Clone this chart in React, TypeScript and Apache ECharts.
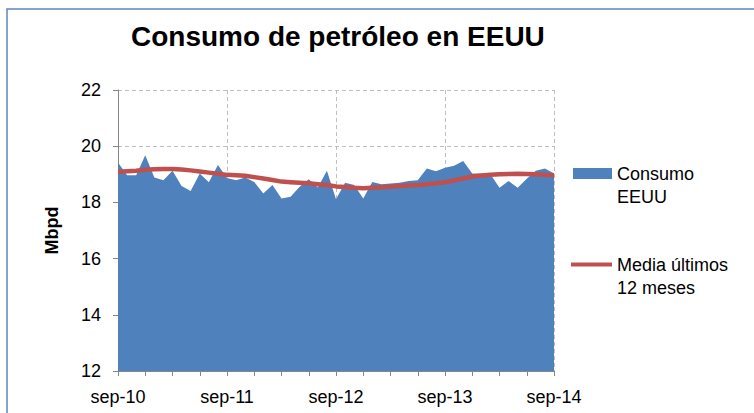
import React, { useEffect, useRef } from "react";
import * as echarts from "echarts";

const monthNames = ["sep", "oct", "nov", "dic", "ene", "feb", "mar", "abr", "may", "jun", "jul", "ago"];
const startYear = 10;
const monthCount = 49;

const consumo = [
  19.42, 18.97, 18.97, 19.68, 18.89, 18.79, 19.13, 18.58, 18.41, 19.03, 18.72, 19.33,
  18.87, 18.79, 18.89, 18.73, 18.32, 18.62, 18.14, 18.2, 18.56, 18.82, 18.53, 19.13,
  18.11, 18.7, 18.62, 18.14, 18.73, 18.65, 18.67, 18.7, 18.76, 18.79, 19.21, 19.11,
  19.23, 19.3, 19.47, 19.03, 19.02, 19.0, 18.52, 18.76, 18.52, 18.84, 19.13, 19.21,
  19.03,
];

const media12 = [
  19.09, 19.11, 19.13, 19.16, 19.18, 19.19, 19.19, 19.17, 19.14, 19.1, 19.06, 19.02,
  18.98, 18.97, 18.95, 18.9, 18.85, 18.8, 18.74, 18.72, 18.7, 18.68, 18.65, 18.62,
  18.57, 18.55, 18.52, 18.5, 18.52, 18.54, 18.56, 18.58, 18.6, 18.62, 18.65, 18.68,
  18.72, 18.78, 18.85, 18.92, 18.96, 18.98, 19.0, 19.01, 19.02, 19.01, 19.0, 18.98,
  18.97,
];

const categories: string[] = [];
for (let i = 0; i < monthCount; i++) {
  const y = startYear + Math.floor((i + 8) / 12);
  categories.push(monthNames[i % 12] + "-" + String(y));
}

const yTicks = { min: 12, max: 22, interval: 2 };

const FONT = "Liberation Sans, Arial, sans-serif";
const SERIES_A = "Consumo\nEEUU";
const SERIES_B = "Media últimos\n12 meses";

export default function App() {
  const ref = useRef<HTMLDivElement>(null);
  useEffect(() => {
    if (!ref.current) return;
    const chart = echarts.init(ref.current, undefined, { renderer: "svg" });
    const legendText = {
      fontFamily: FONT,
      fontSize: 18,
      color: "#000",
      lineHeight: 23,
    };
    chart.setOption({
      animation: false,
      backgroundColor: "#ffffff",
      textStyle: { fontFamily: FONT },
      title: {
        text: "Consumo de petróleo en EEUU",
        left: 131,
        top: 22,
        padding: 0,
        textStyle: { fontFamily: FONT, fontSize: 28, fontWeight: "bold", color: "#000" },
      },
      graphic: [
        {
          type: "rect",
          shape: { x: 7, y: 9, width: 800, height: 450 },
          style: { fill: "none", stroke: "#5B87C5", lineWidth: 1.5 },
          silent: true,
          z: -10,
        },
      ],
      legend: [
        {
          data: [{ name: SERIES_A, icon: "rect" }],
          orient: "vertical",
          left: 573,
          top: 139,
          padding: 0,
          itemWidth: 39,
          itemHeight: 11,
          formatter: (n: string) => "\n" + n,
          textStyle: legendText,
        },
        {
          data: [{ name: SERIES_B, icon: "rect" }],
          orient: "vertical",
          left: 571,
          top: 230,
          padding: 0,
          itemWidth: 41,
          itemHeight: 4,
          formatter: (n: string) => "\n" + n,
          textStyle: legendText,
        },
      ],
      grid: { left: 118, right: 200, top: 90, bottom: 42, containLabel: false, outerBoundsMode: "none" },
      xAxis: {
        type: "category",
        data: categories,
        boundaryGap: false,
        axisLine: { lineStyle: { color: "#868686", width: 1 } },
        axisTick: { show: true, interval: 2, length: 5, lineStyle: { color: "#868686" } },
        axisLabel: {
          interval: 11,
          margin: 17,
          fontFamily: FONT,
          fontSize: 18,
          color: "#000",
        },
        splitLine: {
          show: true,
          interval: 11,
          lineStyle: { color: "#BFBFBF", type: [4, 3], width: 1 },
        },
      },
      yAxis: {
        type: "value",
        min: yTicks.min,
        max: yTicks.max,
        interval: yTicks.interval,
        name: "Mbpd",
        nameLocation: "middle",
        nameRotate: 90,
        nameGap: 57,
        nameTextStyle: { fontFamily: FONT, fontSize: 18, fontWeight: "bold", color: "#000" },
        axisLine: { show: true, lineStyle: { color: "#868686", width: 1 } },
        axisTick: { show: true, length: 5, lineStyle: { color: "#868686" } },
        axisLabel: { margin: 17, fontFamily: FONT, fontSize: 18, color: "#000" },
        splitLine: { show: true, lineStyle: { color: "#BFBFBF", type: [4, 3], width: 1 } },
      },
      series: [
        {
          name: SERIES_A,
          type: "line",
          data: consumo,
          symbol: "none",
          lineStyle: { width: 0, color: "#4F81BD" },
          itemStyle: { color: "#4F81BD" },
          areaStyle: { color: "#4F81BD", opacity: 1 },
          z: 2,
        },
        {
          name: SERIES_B,
          type: "line",
          data: media12,
          symbol: "none",
          lineStyle: { width: 4.5, color: "#C0504D" },
          itemStyle: { color: "#C0504D" },
          z: 3,
        },
      ],
    });
    return () => chart.dispose();
  }, []);
  return (
    <div
      ref={ref}
      style={{ position: "absolute", left: 0, top: 0, width: 754, height: 413 }}
    />
  );
}
